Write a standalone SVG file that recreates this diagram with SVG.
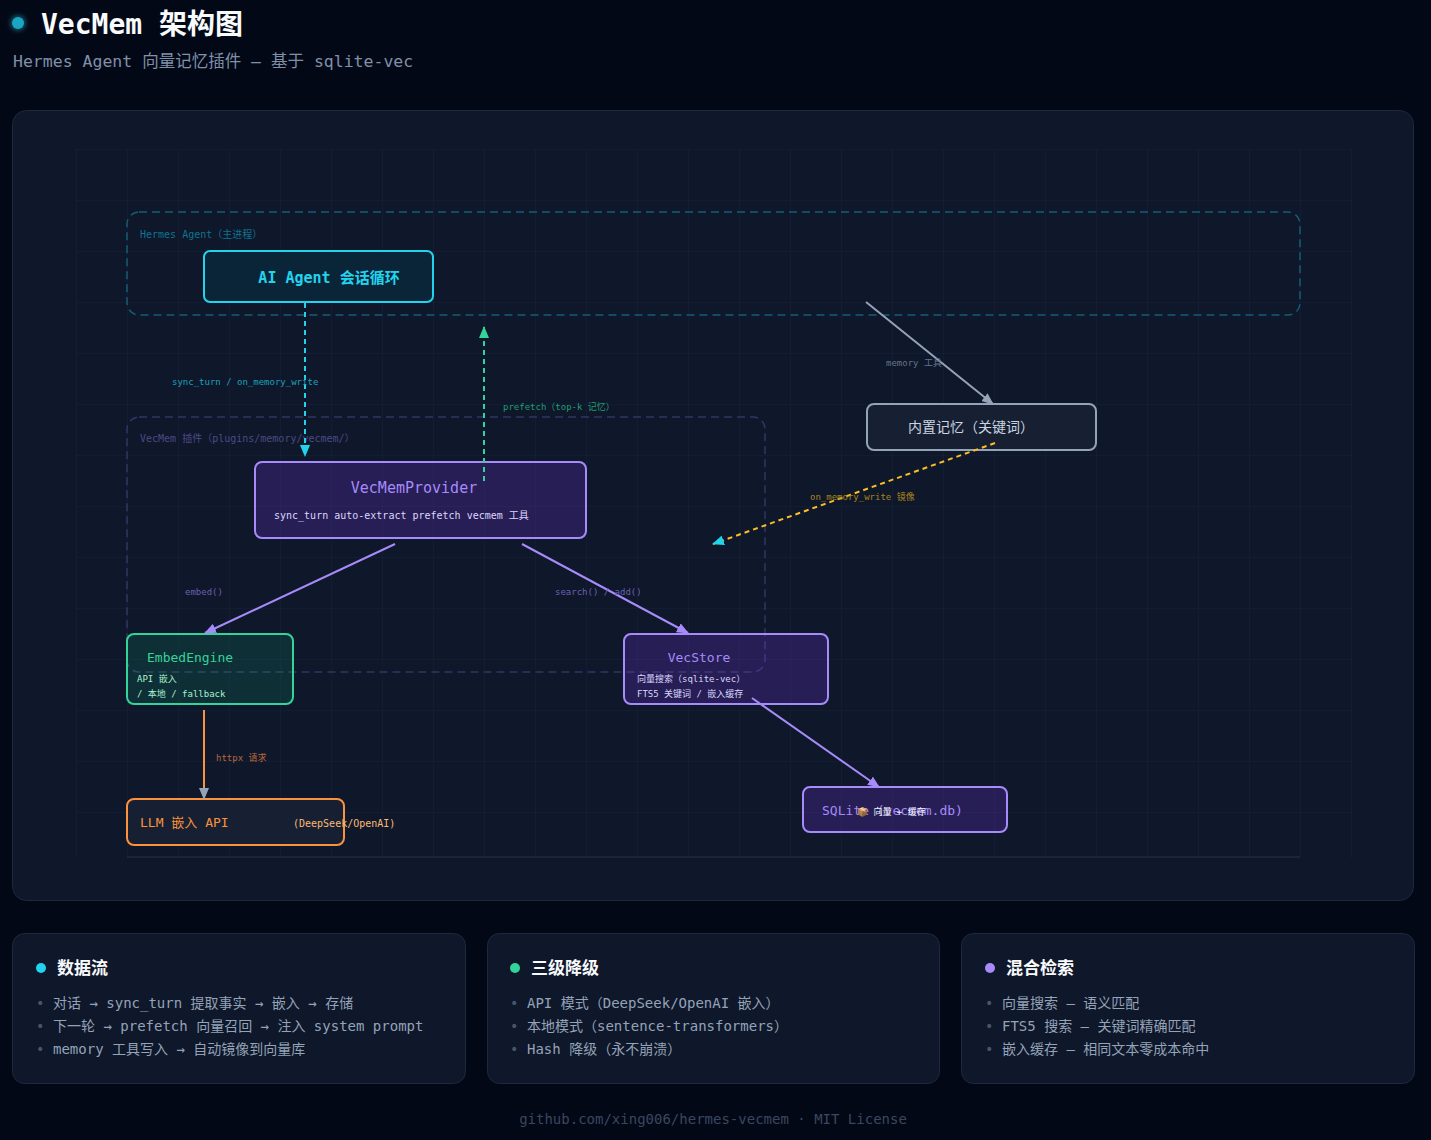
<svg xmlns="http://www.w3.org/2000/svg" width="1431" height="1140" viewBox="0 0 1431 1140">
<defs>
<style>
text{font-family:"DejaVu Sans Mono","Noto Sans CJK SC",monospace}
.grp{fill:none;stroke-width:1.5;stroke-dasharray:8 5}
.lbl{font-size:9px}
.card{fill:#0f172a;stroke:#1e293b;stroke-width:1}
.ctitle{font-size:17px;font-weight:bold;fill:#f8fafc}
.item{font-size:14px;fill:#94a3b8}
.bul{font-size:14px;fill:#475569}
.edge{fill:none;stroke-width:2}
.pnode{fill:#7c3aed;fill-opacity:0.22;stroke:#a78bfa;stroke-width:2}
</style>
<pattern id="grid" x="76" y="149" width="51" height="51" patternUnits="userSpaceOnUse">
<path d="M51 0H0V51" fill="none" stroke="#18223a" stroke-width="1"/>
</pattern>
<marker id="aCyan" viewBox="0 0 12 10" refX="11" refY="5" markerWidth="12" markerHeight="10" markerUnits="userSpaceOnUse" orient="auto"><path d="M0 0L12 5L0 10Z" fill="#22d3ee"/></marker>
<marker id="aGreen" viewBox="0 0 12 10" refX="11" refY="5" markerWidth="12" markerHeight="10" markerUnits="userSpaceOnUse" orient="auto"><path d="M0 0L12 5L0 10Z" fill="#34d399"/></marker>
<marker id="aGray" viewBox="0 0 12 10" refX="11" refY="5" markerWidth="12" markerHeight="10" markerUnits="userSpaceOnUse" orient="auto"><path d="M0 0L12 5L0 10Z" fill="#94a3b8"/></marker>
<marker id="aPurple" viewBox="0 0 12 10" refX="11" refY="5" markerWidth="12" markerHeight="10" markerUnits="userSpaceOnUse" orient="auto"><path d="M0 0L12 5L0 10Z" fill="#a78bfa"/></marker>
<filter id="glow" x="-1" y="-1" width="3" height="3"><feGaussianBlur stdDeviation="2"/></filter>
</defs>

<rect width="1431" height="1140" fill="#030817"/>

<g id="header">
<circle cx="18" cy="23" r="8" fill="#22d3ee" opacity="0.35" filter="url(#glow)"/>
<circle cx="18" cy="23" r="6" fill="#1aa6c0"/>
<text x="41" y="34" font-size="28" font-weight="bold" fill="#f8fafc">VecMem 架构图</text>
<text x="13" y="67" font-size="16.5" fill="#8090a8">Hermes Agent 向量记忆插件 — 基于 sqlite-vec</text>
</g>

<g id="canvas">
<rect x="12.5" y="110.5" width="1401" height="790" rx="14" fill="#0f172a" stroke="#1e293b"/>
<rect x="76" y="149" width="1276" height="709" fill="url(#grid)"/>
<line x1="127" y1="857" x2="1300" y2="857" stroke="#1f2a40" stroke-width="1.5"/>
</g>

<g id="group-hermes">
<rect class="grp" x="127" y="212" width="1173" height="103" rx="12" stroke="#155e75"/>
<text x="140" y="238" font-size="10" fill="#0e7490">Hermes Agent（主进程）</text>
</g>

<g id="group-vecmem">
<rect class="grp" x="127" y="417" width="638" height="255" rx="12" stroke="#363563"/>
<text x="140" y="442" font-size="10" fill="#4c4a85">VecMem 插件（plugins/memory/vecmem/）</text>
</g>

<g id="node-agent">
<rect x="204" y="251" width="229" height="51" rx="6" fill="#0b2538" stroke="#22d3ee" stroke-width="2"/>
<text x="329" y="283" font-size="15" font-weight="bold" fill="#22d3ee" text-anchor="middle">AI Agent 会话循环</text>
</g>

<g id="node-provider">
<rect class="pnode" x="255" y="462" width="331" height="76" rx="7"/>
<text x="414" y="493" font-size="15" fill="#a78bfa" text-anchor="middle">VecMemProvider</text>
<text x="274" y="519" font-size="10" fill="#ddd6fe">sync_turn auto-extract prefetch vecmem 工具</text>
</g>

<g id="node-builtin">
<rect x="867" y="404" width="229" height="46" rx="7" fill="#162032" stroke="#94a3b8" stroke-width="2"/>
<text x="971" y="432" font-size="14" fill="#cbd5e1" text-anchor="middle">内置记忆（关键词）</text>
</g>

<g id="node-embed">
<rect x="127" y="634" width="166" height="70" rx="7" fill="#10b981" fill-opacity="0.15" stroke="#34d399" stroke-width="2"/>
<text x="147" y="662" font-size="13" fill="#34d399">EmbedEngine</text>
<text x="137" y="682" font-size="9" fill="#a7f3d0">API 嵌入</text>
<text x="137" y="697" font-size="9" fill="#a7f3d0">/ 本地 / fallback</text>
</g>

<g id="node-vecstore">
<rect class="pnode" x="624" y="634" width="204" height="70" rx="7"/>
<text x="699" y="662" font-size="13" fill="#a78bfa" text-anchor="middle">VecStore</text>
<text x="637" y="682" font-size="9" fill="#ddd6fe">向量搜索（sqlite-vec）</text>
<text x="637" y="697" font-size="9" fill="#ddd6fe">FTS5 关键词 / 嵌入缓存</text>
</g>

<g id="node-llm">
<rect x="127" y="799" width="217" height="46" rx="7" fill="#172033" stroke="#fb923c" stroke-width="2"/>
<text x="140" y="827" font-size="13" fill="#fb923c">LLM 嵌入 API</text>
<text x="293" y="827" font-size="10" fill="#fdba74">(DeepSeek/OpenAI)</text>
</g>

<g id="node-sqlite">
<rect class="pnode" x="803" y="787" width="204" height="45" rx="7"/>
<text x="822" y="815" font-size="13" fill="#a78bfa">SQLite (vecmem.db)</text>
<text x="857" y="815" font-size="9" fill="#f1f5f9">📦 向量 + 缓存</text>
</g>

<g id="connectors">
<line class="edge" x1="305" y1="303" x2="305" y2="456" stroke="#22d3ee" stroke-dasharray="5 4" marker-end="url(#aCyan)"/>
<text class="lbl" x="172" y="385" fill="#1aa3bd">sync_turn / on_memory_write</text>
<line class="edge" x1="484" y1="481" x2="484" y2="327" stroke="#34d399" stroke-dasharray="5 4" marker-end="url(#aGreen)"/>
<text class="lbl" x="503" y="410" fill="#1f9e74">prefetch（top-k 记忆）</text>
<line class="edge" x1="866" y1="302" x2="993" y2="404" stroke="#94a3b8" stroke-width="1.5" marker-end="url(#aGray)"/>
<text class="lbl" x="886" y="366" fill="#64748b">memory 工具</text>
<line class="edge" x1="995" y1="443" x2="713" y2="544" stroke="#fbbf24" stroke-dasharray="5 4" marker-end="url(#aCyan)"/>
<text class="lbl" x="810" y="500" fill="#a8841c">on_memory_write 镜像</text>
<line class="edge" x1="395" y1="544" x2="205" y2="633" stroke="#a78bfa" marker-end="url(#aPurple)"/>
<text class="lbl" x="185" y="595" fill="#6d5fb3">embed()</text>
<line class="edge" x1="522" y1="544" x2="688" y2="633" stroke="#a78bfa" marker-end="url(#aPurple)"/>
<text class="lbl" x="555" y="595" fill="#6d5fb3">search() / add()</text>
<line class="edge" x1="204" y1="710" x2="204" y2="799" stroke="#fb923c" stroke-width="1.5" marker-end="url(#aGray)"/>
<text class="lbl" x="216" y="761" fill="#b8693a">httpx 请求</text>
<line class="edge" x1="752" y1="698" x2="879" y2="787" stroke="#a78bfa" marker-end="url(#aPurple)"/>
</g>

<g id="card-dataflow">
<rect class="card" x="12.5" y="933.5" width="453" height="150" rx="12"/>
<circle cx="41" cy="968" r="5" fill="#22d3ee"/>
<text class="ctitle" x="57" y="974">数据流</text>
<text class="bul" x="36" y="1008">•</text><text class="item" x="53" y="1008">对话 → sync_turn 提取事实 → 嵌入 → 存储</text>
<text class="bul" x="36" y="1031">•</text><text class="item" x="53" y="1031">下一轮 → prefetch 向量召回 → 注入 system prompt</text>
<text class="bul" x="36" y="1054">•</text><text class="item" x="53" y="1054">memory 工具写入 → 自动镜像到向量库</text>
</g>

<g id="card-fallback">
<rect class="card" x="487.5" y="933.5" width="452" height="150" rx="12"/>
<circle cx="515" cy="968" r="5" fill="#34d399"/>
<text class="ctitle" x="531" y="974">三级降级</text>
<text class="bul" x="510" y="1008">•</text><text class="item" x="527" y="1008">API 模式（DeepSeek/OpenAI 嵌入）</text>
<text class="bul" x="510" y="1031">•</text><text class="item" x="527" y="1031">本地模式（sentence-transformers）</text>
<text class="bul" x="510" y="1054">•</text><text class="item" x="527" y="1054">Hash 降级（永不崩溃）</text>
</g>

<g id="card-hybrid">
<rect class="card" x="961.5" y="933.5" width="453" height="150" rx="12"/>
<circle cx="990" cy="968" r="5" fill="#a78bfa"/>
<text class="ctitle" x="1006" y="974">混合检索</text>
<text class="bul" x="985" y="1008">•</text><text class="item" x="1002" y="1008">向量搜索 — 语义匹配</text>
<text class="bul" x="985" y="1031">•</text><text class="item" x="1002" y="1031">FTS5 搜索 — 关键词精确匹配</text>
<text class="bul" x="985" y="1054">•</text><text class="item" x="1002" y="1054">嵌入缓存 — 相同文本零成本命中</text>
</g>

<g id="footer">
<text x="713" y="1124" font-size="14" fill="#3a475e" text-anchor="middle">github.com/xing006/hermes-vecmem  ·  MIT License</text>
</g>
</svg>
